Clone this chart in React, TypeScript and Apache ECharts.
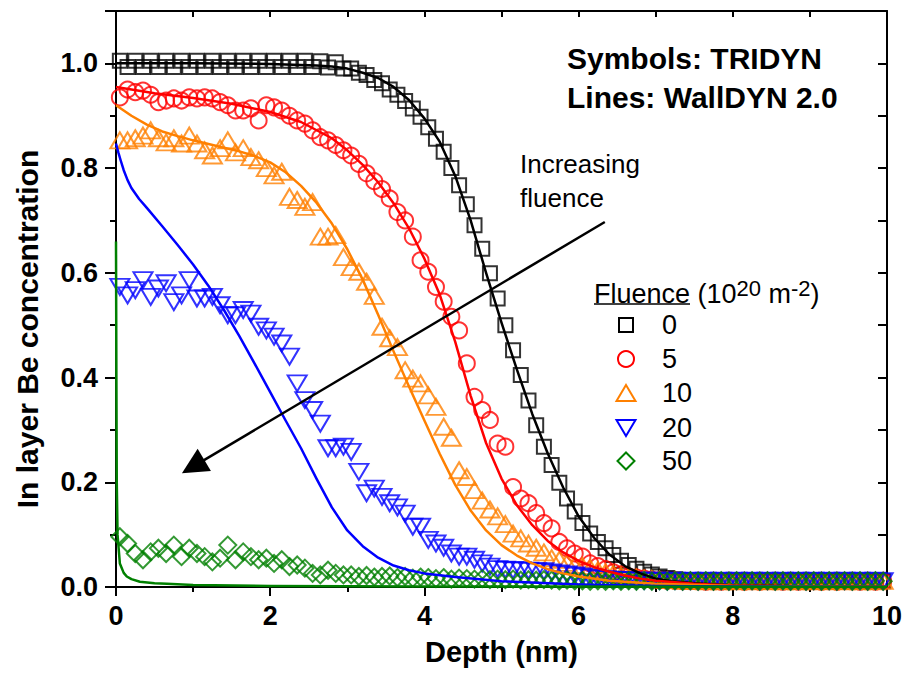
import React, { useEffect, useRef } from "react";
import * as echarts from "echarts";

const FONT = '"Liberation Sans", Arial, sans-serif';

// Depth bins (nm) of TRIDYN symbols
const DEPTH = [
  0.05, 0.15, 0.25, 0.35, 0.45, 0.55, 0.65, 0.75, 0.85, 0.95,
  1.05, 1.15, 1.25, 1.35, 1.45, 1.55, 1.65, 1.75, 1.85, 1.95,
  2.05, 2.15, 2.25, 2.35, 2.45, 2.55, 2.65, 2.75, 2.85, 2.95,
  3.05, 3.15, 3.25, 3.35, 3.45, 3.55, 3.65, 3.75, 3.85, 3.95,
  4.05, 4.15, 4.25, 4.35, 4.45, 4.55, 4.65, 4.75, 4.85, 4.95,
  5.05, 5.15, 5.25, 5.35, 5.45, 5.55, 5.65, 5.75, 5.85, 5.95,
  6.05, 6.15, 6.25, 6.35, 6.45, 6.55, 6.65, 6.75, 6.85, 6.95,
  7.05, 7.15, 7.25, 7.35, 7.45, 7.55, 7.65, 7.75, 7.85, 7.95,
  8.05, 8.15, 8.25, 8.35, 8.45, 8.55, 8.65, 8.75, 8.85, 8.95,
  9.05, 9.15, 9.25, 9.35, 9.45, 9.55, 9.65, 9.75, 9.85, 9.95,
];

// TRIDYN (symbols)
const TRIDYN_0 = [
  1.005, 0.993, 1.005, 0.993, 1.005, 0.993, 1.005, 0.993, 1.005, 0.993,
  1.005, 0.993, 1.005, 0.993, 1.005, 0.993, 1.005, 0.993, 1.005, 0.993,
  1.005, 0.993, 1.005, 0.993, 1.005, 0.993, 1.004, 0.992, 1.002, 0.99,
  0.99, 0.982, 0.978, 0.968, 0.962, 0.95, 0.94, 0.928, 0.914, 0.898,
  0.878, 0.856, 0.831, 0.8, 0.767, 0.731, 0.691, 0.646, 0.599, 0.551,
  0.5, 0.452, 0.405, 0.356, 0.309, 0.268, 0.233, 0.199, 0.169, 0.144,
  0.122, 0.102, 0.086, 0.074, 0.061, 0.05, 0.042, 0.035, 0.029, 0.024,
  0.02, 0.017, 0.015, 0.013, 0.012, 0.011, 0.01, 0.011, 0.01, 0.011,
  0.01, 0.011, 0.01, 0.011, 0.01, 0.011, 0.01, 0.011, 0.01, 0.011,
  0.01, 0.011, 0.01, 0.011, 0.01, 0.011, 0.01, 0.011, 0.01, 0.011,
];
const TRIDYN_5 = [
  0.935, 0.95, 0.945, 0.948, 0.94, 0.926, 0.929, 0.933, 0.929, 0.935,
  0.933, 0.935, 0.933, 0.926, 0.92, 0.91, 0.91, 0.914, 0.891, 0.92,
  0.916, 0.91, 0.9, 0.891, 0.885, 0.872, 0.859, 0.853, 0.844, 0.834,
  0.824, 0.808, 0.79, 0.775, 0.76, 0.742, 0.716, 0.7, 0.669, 0.624,
  0.602, 0.573, 0.545, 0.516, 0.49, 0.427, 0.363, 0.338, 0.319, 0.274,
  0.268, 0.191, 0.169, 0.16, 0.141, 0.122, 0.112, 0.086, 0.074, 0.064,
  0.058, 0.045, 0.04, 0.034, 0.028, 0.024, 0.02, 0.018, 0.016, 0.014,
  0.013, 0.012, 0.012, 0.011, 0.011, 0.011, 0.01, 0.011, 0.01, 0.011,
  0.011, 0.01, 0.011, 0.01, 0.011, 0.011, 0.01, 0.011, 0.01, 0.011,
  0.011, 0.01, 0.011, 0.01, 0.011, 0.011, 0.01, 0.011, 0.01, 0.011,
];
const TRIDYN_10 = [
  0.853, 0.853, 0.857, 0.862, 0.872, 0.857, 0.849, 0.857, 0.847, 0.862,
  0.847, 0.834, 0.824, 0.838, 0.853, 0.83, 0.838, 0.821, 0.815, 0.8,
  0.786, 0.793, 0.745, 0.739, 0.726, 0.735, 0.669, 0.669, 0.672, 0.63,
  0.611, 0.602, 0.583, 0.556, 0.497, 0.475, 0.458, 0.414, 0.398, 0.389,
  0.366, 0.344, 0.306, 0.285, 0.223, 0.21, 0.185, 0.165, 0.148, 0.135,
  0.12, 0.102, 0.093, 0.083, 0.075, 0.066, 0.055, 0.052, 0.046, 0.042,
  0.04, 0.036, 0.032, 0.028, 0.025, 0.022, 0.02, 0.018, 0.016, 0.015,
  0.014, 0.013, 0.013, 0.012, 0.012, 0.012, 0.011, 0.012, 0.011, 0.012,
  0.011, 0.012, 0.011, 0.012, 0.011, 0.012, 0.011, 0.012, 0.011, 0.012,
  0.011, 0.012, 0.011, 0.012, 0.011, 0.012, 0.011, 0.012, 0.011, 0.012,
];
const TRIDYN_20 = [
  0.573, 0.557, 0.567, 0.586, 0.554, 0.57, 0.58, 0.544, 0.557, 0.586,
  0.551, 0.551, 0.554, 0.538, 0.519, 0.519, 0.529, 0.522, 0.497, 0.49,
  0.478, 0.465, 0.44, 0.389, 0.357, 0.338, 0.312, 0.265, 0.265, 0.268,
  0.258, 0.22, 0.179, 0.188, 0.172, 0.16, 0.152, 0.14, 0.115, 0.115,
  0.09, 0.083, 0.075, 0.064, 0.058, 0.058, 0.052, 0.045, 0.039, 0.034,
  0.033, 0.032, 0.032, 0.031, 0.03, 0.03, 0.028, 0.026, 0.024, 0.022,
  0.02, 0.018, 0.016, 0.015, 0.014, 0.013, 0.013, 0.012, 0.012, 0.012,
  0.012, 0.011, 0.012, 0.011, 0.012, 0.011, 0.012, 0.011, 0.012, 0.011,
  0.012, 0.011, 0.012, 0.011, 0.012, 0.011, 0.012, 0.011, 0.012, 0.011,
  0.012, 0.011, 0.012, 0.011, 0.012, 0.011, 0.012, 0.011, 0.012, 0.011,
];
const TRIDYN_50 = [
  0.096, 0.083, 0.064, 0.052, 0.067, 0.074, 0.064, 0.08, 0.058, 0.074,
  0.064, 0.058, 0.048, 0.055, 0.08, 0.052, 0.067, 0.058, 0.052, 0.055,
  0.045, 0.052, 0.039, 0.042, 0.036, 0.026, 0.023, 0.032, 0.026, 0.023,
  0.023, 0.02, 0.022, 0.019, 0.02, 0.021, 0.018, 0.02, 0.017, 0.019,
  0.018, 0.016, 0.018, 0.015, 0.017, 0.016, 0.015, 0.016, 0.014, 0.015,
  0.014, 0.015, 0.013, 0.014, 0.013, 0.014, 0.013, 0.012, 0.013, 0.012,
  0.012, 0.011, 0.012, 0.011, 0.012, 0.011, 0.012, 0.011, 0.012, 0.011,
  0.012, 0.011, 0.012, 0.011, 0.012, 0.011, 0.012, 0.011, 0.012, 0.011,
  0.012, 0.011, 0.012, 0.011, 0.012, 0.011, 0.012, 0.011, 0.012, 0.011,
  0.012, 0.011, 0.012, 0.011, 0.012, 0.011, 0.012, 0.011, 0.012, 0.011,
];

// WallDYN 2.0 (lines): [depth, concentration]
const WALLDYN_0 = [
  [0, 1.0], [1, 1.0], [2, 0.999], [2.6, 0.996], [2.8, 0.994], [3.0, 0.99],
  [3.2, 0.982], [3.4, 0.972], [3.6, 0.955], [3.8, 0.93], [4.0, 0.895],
  [4.2, 0.85], [4.4, 0.785], [4.6, 0.7], [4.8, 0.6], [5.0, 0.505],
  [5.2, 0.415], [5.4, 0.33], [5.6, 0.255], [5.8, 0.19], [6.0, 0.135],
  [6.2, 0.094], [6.4, 0.062], [6.6, 0.04], [6.8, 0.026], [7.0, 0.016],
  [7.2, 0.011], [7.5, 0.007], [8, 0.003], [9, 0.001], [10, 0.0],
];
const WALLDYN_5 = [
  [0, 0.955], [0.5, 0.943], [1.0, 0.934], [1.5, 0.923], [2.0, 0.907],
  [2.4, 0.888], [2.8, 0.857], [3.0, 0.834], [3.2, 0.806], [3.4, 0.773],
  [3.6, 0.733], [3.8, 0.685], [4.0, 0.627], [4.2, 0.558], [4.4, 0.468],
  [4.6, 0.365], [4.8, 0.275], [5.0, 0.207], [5.2, 0.156], [5.4, 0.118],
  [5.6, 0.088], [5.8, 0.066], [6.0, 0.05], [6.2, 0.038], [6.4, 0.029],
  [6.6, 0.022], [6.8, 0.016], [7.0, 0.012], [7.5, 0.006], [8, 0.003],
  [9, 0.001], [10, 0.0],
];
const WALLDYN_10 = [
  [0, 0.92], [0.1, 0.91], [0.2, 0.9], [0.4, 0.883], [0.6, 0.87], [0.8, 0.861],
  [1.0, 0.853], [1.2, 0.846], [1.4, 0.839], [1.6, 0.832], [1.8, 0.823],
  [2.0, 0.811], [2.2, 0.792], [2.4, 0.766], [2.6, 0.734], [2.8, 0.694],
  [3.0, 0.645], [3.2, 0.587], [3.4, 0.52], [3.6, 0.45], [3.8, 0.383],
  [4.0, 0.318], [4.2, 0.254], [4.4, 0.195], [4.6, 0.146], [4.8, 0.108],
  [5.0, 0.08], [5.2, 0.06], [5.4, 0.045], [5.6, 0.034], [5.8, 0.026],
  [6.0, 0.02], [6.4, 0.012], [7, 0.006], [8, 0.002], [10, 0.0],
];
const WALLDYN_20 = [
  [0, 0.847], [0.03, 0.83], [0.06, 0.815], [0.1, 0.796], [0.15, 0.777],
  [0.2, 0.762], [0.3, 0.741], [0.4, 0.724], [0.6, 0.689], [0.8, 0.653],
  [1.0, 0.616], [1.2, 0.575], [1.4, 0.529], [1.6, 0.479], [1.8, 0.426],
  [2.0, 0.372], [2.2, 0.318], [2.4, 0.265], [2.6, 0.207], [2.8, 0.152],
  [3.0, 0.108], [3.2, 0.078], [3.4, 0.056], [3.6, 0.041], [3.8, 0.032],
  [4.0, 0.026], [4.4, 0.019], [5.0, 0.011], [6.0, 0.005], [7, 0.002],
  [8, 0.001], [10, 0.0],
];
const WALLDYN_50 = [
  [0, 0.66], [0.005, 0.4], [0.01, 0.2], [0.02, 0.1], [0.05, 0.045],
  [0.1, 0.027], [0.14, 0.02], [0.2, 0.015], [0.31, 0.01], [0.5, 0.007],
  [0.66, 0.006], [1, 0.004], [2, 0.002], [4, 0.001], [10, 0.0],
];

const FLUENCES = ["0", "5", "10", "20", "50"];
const COLORS = ["#000000", "#ff0000", "#ff8000", "#0000ff", "#008000"];
const TRIDYN = [TRIDYN_0, TRIDYN_5, TRIDYN_10, TRIDYN_20, TRIDYN_50];
const WALLDYN = [WALLDYN_0, WALLDYN_5, WALLDYN_10, WALLDYN_20, WALLDYN_50];

// arrow annotation "Increasing fluence" (data coordinates: start, arrowhead centre)
const ARROW = [[6.34, 0.697], [1.0, 0.23]];

const SYMBOLS = [
  { symbol: "rect", size: 14, rotate: 0 },
  { symbol: "circle", size: 16, rotate: 0 },
  { symbol: "triangle", size: [19, 16], rotate: 0 },
  { symbol: "triangle", size: [19, 16], rotate: 180 },
  { symbol: "diamond", size: 17, rotate: 0 },
];

export default function App() {
  const ref = useRef<HTMLDivElement>(null);

  useEffect(() => {
    if (!ref.current) return;
    const chart = echarts.init(ref.current, null, { renderer: "svg" });

    const axisLine = { show: true, onZero: false, lineStyle: { color: "#000", width: 2 } };
    const tickStyle = { color: "#000", width: 2 };

    const scatterSeries = FLUENCES.map((f, k) => ({
      type: "scatter",
      name: f,
      data: DEPTH.map((x, i) => [x, TRIDYN[k][i]]),
      symbol: SYMBOLS[k].symbol,
      symbolSize: SYMBOLS[k].size,
      symbolRotate: SYMBOLS[k].rotate,
      itemStyle: { color: "rgba(0,0,0,0)", borderColor: COLORS[k], borderWidth: 2 },
      z: 2,
      silent: true,
    }));

    const lineSeries = FLUENCES.map((f, k) => ({
      type: "line",
      name: "WallDYN " + f,
      data: WALLDYN[k],
      showSymbol: false,
      symbol: "none",
      smooth: false,
      lineStyle: { color: COLORS[k], width: 2.5, join: "round" },
      z: 3,
      silent: true,
    }));

    const legendX = 626;
    const legendRows = [325, 359, 393, 428, 461];
    const legendGraphics: any[] = [];
    const strokeOf = (c: string) => ({ fill: "none", stroke: c, lineWidth: 2 });
    legendGraphics.push({
      type: "rect",
      shape: { x: legendX - 7, y: legendRows[0] - 7, width: 14, height: 14 },
      style: strokeOf(COLORS[0]),
    });
    legendGraphics.push({
      type: "circle",
      shape: { cx: legendX, cy: legendRows[1], r: 8 },
      style: strokeOf(COLORS[1]),
    });
    legendGraphics.push({
      type: "polygon",
      shape: {
        points: [
          [legendX, legendRows[2] - 8],
          [legendX + 9.5, legendRows[2] + 8],
          [legendX - 9.5, legendRows[2] + 8],
        ],
      },
      style: strokeOf(COLORS[2]),
    });
    legendGraphics.push({
      type: "polygon",
      shape: {
        points: [
          [legendX, legendRows[3] + 8],
          [legendX + 9.5, legendRows[3] - 8],
          [legendX - 9.5, legendRows[3] - 8],
        ],
      },
      style: strokeOf(COLORS[3]),
    });
    legendGraphics.push({
      type: "polygon",
      shape: {
        points: [
          [legendX, legendRows[4] - 8.5],
          [legendX + 8.5, legendRows[4]],
          [legendX, legendRows[4] + 8.5],
          [legendX - 8.5, legendRows[4]],
        ],
      },
      style: strokeOf(COLORS[4]),
    });
    FLUENCES.forEach((f, k) => {
      legendGraphics.push({
        type: "text",
        x: 662,
        y: legendRows[k],
        style: {
          text: f,
          fill: "#000",
          fontSize: 27,
          fontFamily: FONT,
          align: "left",
          verticalAlign: "middle",
        },
      });
    });

    const option: any = {
      animation: false,
      backgroundColor: "#fff",
      grid: { left: 116, right: 21, top: 11, bottom: 88, containLabel: false },
      xAxis: [
        {
          type: "value",
          min: 0,
          max: 10,
          interval: 2,
          name: "Depth (nm)",
          nameLocation: "middle",
          nameGap: 50,
          nameTextStyle: { fontSize: 29, fontWeight: "bold", color: "#000", fontFamily: FONT },
          axisLine,
          axisTick: { show: true, inside: false, length: 9, lineStyle: tickStyle },
          minorTick: { show: true, splitNumber: 2, length: 5, lineStyle: tickStyle },
          splitLine: { show: false },
          minorSplitLine: { show: false },
          axisLabel: { fontSize: 27, fontWeight: "bold", color: "#000", margin: 15, fontFamily: FONT },
        },
        {
          type: "value",
          position: "top",
          min: 0,
          max: 10,
          interval: 1,
          axisLine,
          axisTick: { show: true, inside: true, length: 6, lineStyle: tickStyle },
          axisLabel: { show: false },
          splitLine: { show: false },
        },
      ],
      yAxis: [
        {
          type: "value",
          min: 0,
          max: 1.1,
          interval: 0.2,
          axisLine,
          axisTick: { show: true, inside: false, length: 11, lineStyle: tickStyle },
          minorTick: { show: true, splitNumber: 2, length: 6, lineStyle: tickStyle },
          splitLine: { show: false },
          minorSplitLine: { show: false },
          axisLabel: {
            fontSize: 27,
            fontWeight: "bold",
            color: "#000",
            margin: 18,
            fontFamily: FONT,
            showMaxLabel: false,
            formatter: (v: number) => (v > 1.05 ? "" : v.toFixed(1)),
          },
        },
        {
          type: "value",
          position: "right",
          min: 0,
          max: 1.1,
          interval: 0.1,
          axisLine,
          axisTick: { show: true, inside: true, length: 9, lineStyle: tickStyle },
          axisLabel: { show: false },
          splitLine: { show: false },
        },
      ],
      series: [
        ...scatterSeries,
        ...lineSeries,
        {
          type: "lines",
          coordinateSystem: "cartesian2d",
          xAxisIndex: 0,
          yAxisIndex: 0,
          data: [{ coords: ARROW }],
          symbol: ["none", "triangle"],
          symbolSize: 26,
          lineStyle: { color: "#000", width: 2.5, opacity: 1, curveness: 0 },
          itemStyle: { color: "#000" },
          z: 5,
          silent: true,
        },
      ],
      graphic: [
        {
          type: "text",
          x: 27,
          y: 329,
          rotation: Math.PI / 2,
          style: {
            text: "In layer Be concentration",
            fill: "#000",
            fontSize: 30,
            fontWeight: "bold",
            fontFamily: FONT,
            align: "center",
            verticalAlign: "middle",
          },
        },
        {
          type: "text",
          x: 567,
          y: 58,
          style: {
            text: "Symbols: TRIDYN",
            fill: "#000",
            fontSize: 30,
            fontWeight: "bold",
            fontFamily: FONT,
            align: "left",
            verticalAlign: "middle",
          },
        },
        {
          type: "text",
          x: 567,
          y: 97,
          style: {
            text: "Lines: WallDYN 2.0",
            fill: "#000",
            fontSize: 30,
            fontWeight: "bold",
            fontFamily: FONT,
            align: "left",
            verticalAlign: "middle",
          },
        },
        {
          type: "text",
          x: 520,
          y: 164,
          style: {
            text: "Increasing",
            fill: "#000",
            fontSize: 26,
            fontFamily: FONT,
            align: "left",
            verticalAlign: "middle",
          },
        },
        {
          type: "text",
          x: 520,
          y: 198,
          style: {
            text: "fluence",
            fill: "#000",
            fontSize: 26,
            fontFamily: FONT,
            align: "left",
            verticalAlign: "middle",
          },
        },
        {
          type: "text",
          x: 594,
          y: 292,
          style: {
            text: "{a|Fluence }{a|(10}{s|20}{a| m}{s|-2}{a|)}",
            fill: "#000",
            fontFamily: FONT,
            align: "left",
            verticalAlign: "middle",
            rich: {
              a: { fontSize: 27, lineHeight: 30, fontFamily: FONT, fill: "#000", verticalAlign: "bottom" },
              s: { fontSize: 22, lineHeight: 22, fontFamily: FONT, fill: "#000", verticalAlign: "top" },
            },
          },
        },
        {
          type: "line",
          shape: { x1: 594, y1: 304, x2: 690, y2: 304 },
          style: { stroke: "#000", lineWidth: 1.5 },
        },
        ...legendGraphics,
      ],
    };

    chart.setOption(option);
    return () => chart.dispose();
  }, []);

  return (
    <div
      ref={ref}
      style={{ position: "absolute", left: 0, top: 0, width: 908, height: 675 }}
    />
  );
}
